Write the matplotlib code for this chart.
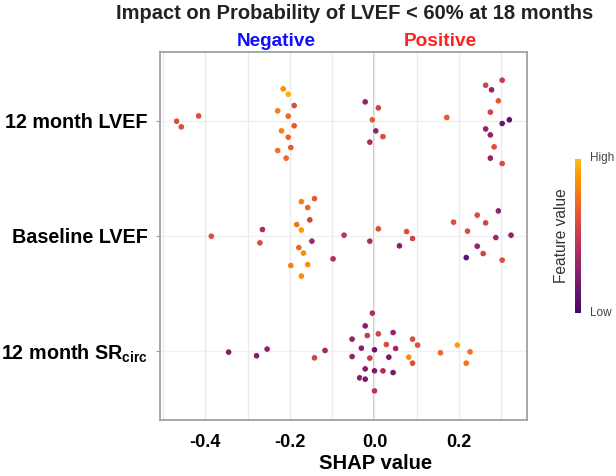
import numpy as np
import matplotlib
matplotlib.use("Agg")
import matplotlib.pyplot as plt
from matplotlib.colors import LinearSegmentedColormap

plt.rcParams['font.family'] = ['Liberation Sans', 'DejaVu Sans']
plt.rcParams['mathtext.fontset'] = 'custom'
plt.rcParams['mathtext.bf'] = 'Liberation Sans:bold'
plt.rcParams['mathtext.rm'] = 'Liberation Sans'

features = ["12 month LVEF", "Baseline LVEF", "12 month SR$_\\mathbf{circ}$"]

# 12 month LVEF
shap_lvef12 = [-0.468, -0.457, -0.416, -0.216, -0.204, -0.190, -0.229, -0.204, -0.190, -0.220,
               -0.204, -0.198, -0.229, -0.209, -0.022, 0.009, -0.005, 0.003, 0.020, -0.011,
               0.171, 0.302, 0.263, 0.277, 0.293, 0.274, 0.302, 0.319, 0.263, 0.274,
               0.283, 0.274, 0.302]
jitter_lvef12 = [-0.003, -0.052, 0.043, 0.278, 0.232, 0.133, 0.087, 0.041, -0.043, -0.087,
                 -0.142, -0.232, -0.258, -0.324, 0.165, 0.113, 0.009, -0.087, -0.137, -0.185,
                 0.029, 0.354, 0.310, 0.270, 0.174, 0.076, -0.023, 0.009, -0.070, -0.122,
                 -0.226, -0.324, -0.371]
value_lvef12 = [0.6, 0.6, 0.6, 0.85, 0.95, 0.6, 0.8, 0.7, 0.65, 0.8,
                0.7, 0.65, 0.75, 0.7, 0.3, 0.55, 0.65, 0.3, 0.6, 0.4,
                0.65, 0.5, 0.55, 0.3, 0.65, 0.55, 0.15, 0.1, 0.3, 0.3,
                0.6, 0.3, 0.6]

# Baseline LVEF
shap_lvef0 = [-0.386, -0.265, -0.271, -0.142, -0.173, -0.158, -0.153, -0.184, -0.173, -0.148,
              -0.179, -0.168, -0.198, -0.158, -0.173, -0.072, -0.098, -0.011, 0.009, 0.059,
              0.076, 0.090, 0.187, 0.243, 0.263, 0.293, 0.220, 0.287, 0.323, 0.243,
              0.257, 0.217, 0.302]
jitter_lvef0 = [-0.003, 0.055, -0.061, 0.324, 0.298, 0.246, 0.139, 0.098, 0.050, -0.046,
                -0.102, -0.150, -0.258, -0.250, -0.350, 0.006, -0.200, -0.046, 0.061, -0.087,
                0.037, -0.023, 0.119, 0.180, 0.113, 0.217, 0.041, -0.015, 0.006, -0.090,
                -0.154, -0.189, -0.211]
value_lvef0 = [0.6, 0.4, 0.6, 0.65, 0.8, 0.7, 0.55, 0.75, 0.9, 0.35,
               0.7, 0.85, 0.8, 0.85, 0.85, 0.45, 0.4, 0.4, 0.6, 0.25,
               0.6, 0.55, 0.6, 0.6, 0.55, 0.3, 0.6, 0.35, 0.3, 0.3,
               0.55, 0.1, 0.6]

# 12 month SRcirc
shap_sr = [-0.345, -0.279, -0.254, -0.142, -0.117, -0.053, -0.053, -0.035, -0.005, -0.022,
           -0.017, 0.009, 0.044, 0.028, 0.050, -0.031, 0.000, -0.011, 0.034, -0.022,
           0.000, 0.020, 0.044, -0.022, 0.000, 0.090, 0.102, 0.081, 0.090, 0.156,
           0.196, 0.226, 0.217]
jitter_sr = [-0.011, -0.043, 0.015, -0.061, 0.003, 0.102, -0.050, -0.235, 0.328, 0.217,
             0.133, 0.148, 0.159, 0.055, 0.020, 0.023, 0.009, -0.063, -0.055, -0.157,
             -0.174, -0.174, -0.189, -0.246, -0.348, 0.102, 0.050, -0.055, -0.107, -0.017,
             0.050, -0.009, -0.107]
value_sr = [0.25, 0.25, 0.3, 0.55, 0.35, 0.3, 0.3, 0.25, 0.4, 0.25,
            0.5, 0.55, 0.3, 0.6, 0.35, 0.25, 0.15, 0.5, 0.2, 0.25,
            0.2, 0.4, 0.2, 0.2, 0.45, 0.6, 0.6, 0.85, 0.6, 0.7,
            0.9, 0.75, 0.75]

shap_all = [shap_lvef12, shap_lvef0, shap_sr]
jitter_all = [jitter_lvef12, jitter_lvef0, jitter_sr]
value_all = [value_lvef12, value_lvef0, value_sr]

base = plt.get_cmap('inferno')
cmap = LinearSegmentedColormap.from_list('inf_cut', base(np.linspace(0.2, 0.85, 256)))

fig = plt.figure(figsize=(6.16, 4.76), dpi=100)
ax = fig.add_axes([0.260, 0.118, 0.595, 0.773])

rows = [2, 1, 0]
for r, xs, js, vs in zip(rows, shap_all, jitter_all, value_all):
    ax.scatter(xs, r + np.array(js), c=vs, cmap=cmap, vmin=0, vmax=1,
               s=22, edgecolors='white', linewidths=0.6, zorder=3)

ax.set_xlim(-0.507, 0.360)
ax.set_ylim(-0.6, 2.6)
ax.set_xticks([-0.4, -0.2, 0.0, 0.2])
ax.set_xticklabels(["-0.4", "-0.2", "0.0", "0.2"])
ax.set_xticks([-0.5, -0.3, -0.1, 0.1, 0.3], minor=True)
ax.set_yticks(rows)
ax.set_yticklabels(features)
ax.grid(which='both', axis='x', color='#ebebeb', linewidth=1.0, zorder=0)
ax.grid(which='major', axis='y', color='#f0f0f0', linewidth=1.0, zorder=0)
ax.axvline(0, color='#bdbdbd', linewidth=1.2, zorder=1)

for s in ax.spines.values():
    s.set_color('#a0a0a0')
    s.set_linewidth(1.3)
ax.tick_params(axis='y', length=3, color='#a0a0a0', labelsize=14.2, pad=6)
ax.tick_params(axis='x', which='both', length=0, labelsize=13, pad=10)
for lab in ax.get_yticklabels() + ax.get_xticklabels():
    lab.set_fontweight('bold')
ax.set_xlabel("SHAP value", fontsize=14.6, fontweight='bold')
ax.xaxis.set_label_coords(0.588, -0.093)

fig.text(0.576, 0.971, "Impact on Probability of LVEF < 60% at 18 months",
         ha='center', va='center', fontsize=14.5, fontweight='bold', color='#222222')
fig.text(0.448, 0.912, "Negative", ha='center', va='center', fontsize=13.7,
         fontweight='bold', color='#1010ff')
fig.text(0.714, 0.912, "Positive", ha='center', va='center', fontsize=13.7,
         fontweight='bold', color='#ff2020')

# colorbar
cax = fig.add_axes([0.933, 0.342, 0.010, 0.325])
sm = matplotlib.cm.ScalarMappable(cmap=cmap, norm=matplotlib.colors.Normalize(0, 1))
cb = fig.colorbar(sm, cax=cax)
cb.outline.set_visible(False)
cb.set_ticks([])
fig.text(0.957, 0.668, "High", ha='left', va='center', fontsize=8.5, color='#444444')
fig.text(0.957, 0.342, "Low", ha='left', va='center', fontsize=8.5, color='#444444')
fig.text(0.911, 0.506, "Feature value", ha='center', va='center', rotation=90,
         fontsize=11.2, color='#333333')

fig.savefig("out.png", dpi=100)
